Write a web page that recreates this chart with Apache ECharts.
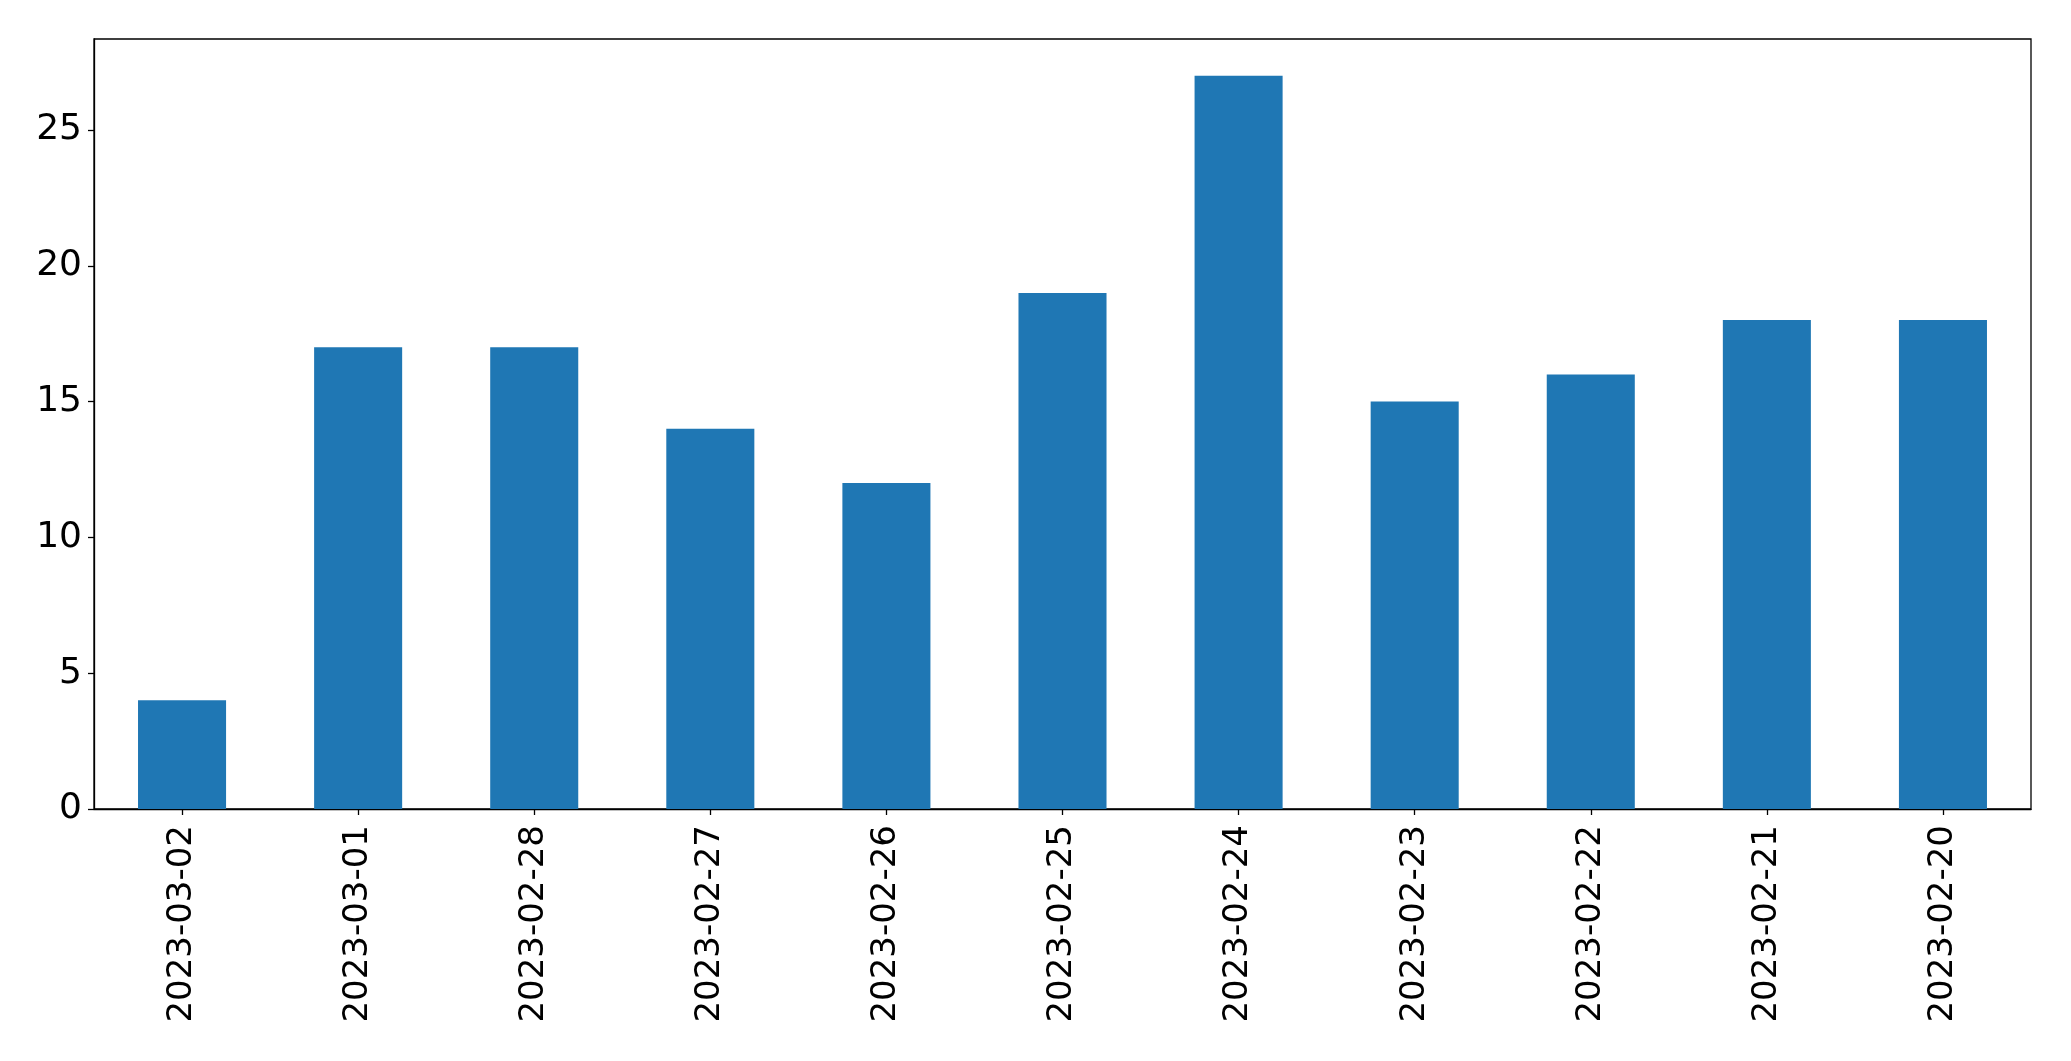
<!DOCTYPE html>
<html>
<head>
<meta charset="utf-8">
<script src="https://cdn.jsdelivr.net/npm/echarts@6/dist/echarts.min.js"></script>
<style>
html,body{margin:0;padding:0;background:#fff;}
#chart{width:2071px;height:1061px;}
</style>
</head>
<body>
<div id="chart"></div>
<script>
const categories = ['2023-03-02','2023-03-01','2023-02-28','2023-02-27','2023-02-26','2023-02-25','2023-02-24','2023-02-23','2023-02-22','2023-02-21','2023-02-20'];
const values = [4,17,17,14,12,19,27,15,16,18,18];
const yTicks = [0,5,10,15,20,25];

const chart = echarts.init(document.getElementById('chart'), null, {renderer:'canvas'});
chart.setOption({
  animation: false,
  backgroundColor: '#fff',
  textStyle: {fontFamily: 'DejaVu Sans'},
  grid: {left: 94, right: 40, top: 39, bottom: 252, show: true, borderColor: '#000', borderWidth: 1.3, containLabel: false},
  xAxis: {
    type: 'category',
    data: categories,
    boundaryGap: true,
    axisLine: {show: true, lineStyle: {color: '#000', width: 1.3}},
    axisTick: {show: true, alignWithLabel: true, length: 6, lineStyle: {color: '#000', width: 1.3}},
    axisLabel: {rotate: 90, margin: 16, fontSize: 34, color: '#000', fontFamily: 'DejaVu Sans', interval: 0}
  },
  yAxis: {
    type: 'value',
    min: 0,
    max: 28.35,
    interval: 5,
    splitLine: {show: false},
    axisLine: {show: true, lineStyle: {color: '#000', width: 1.3}},
    axisTick: {show: true, length: 6, lineStyle: {color: '#000', width: 1.3}, customValues: yTicks},
    axisLabel: {margin: 12, fontSize: 36, color: '#000', fontFamily: 'DejaVu Sans', customValues: yTicks, padding: [7, 0, 0, 0]}
  },
  series: [{
    type: 'bar',
    data: values,
    barWidth: '50%',
    itemStyle: {color: '#1f77b4'}
  }]
});
</script>
</body>
</html>
